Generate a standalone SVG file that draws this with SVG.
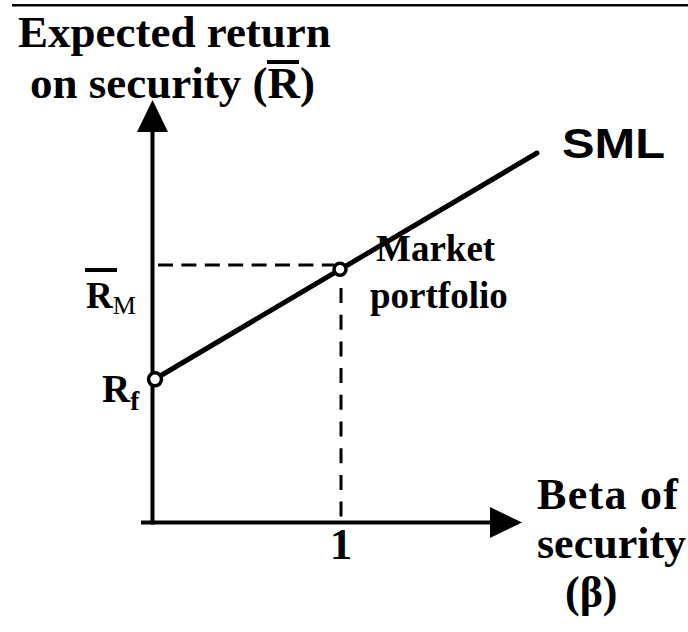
<svg xmlns="http://www.w3.org/2000/svg" width="688" height="632" viewBox="0 0 688 632">
  <style>
    .serif { font-family: "Liberation Serif", "Times New Roman", serif; font-weight: bold; fill: #000; }
    .sans { font-family: "Liberation Sans", Arial, sans-serif; font-weight: bold; fill: #000; }
    .axis { stroke: #000; stroke-width: 4; fill: none; }
    .guide { stroke: #000; stroke-width: 3; fill: none; }
    .sml { stroke: #000; stroke-width: 5; fill: none; stroke-linecap: round; }
    .point { fill: #fff; stroke: #000; stroke-width: 3.5; }
  </style>
  <defs>
    <marker id="arrow" markerUnits="userSpaceOnUse" markerWidth="34" markerHeight="32" refX="2" refY="15.5" orient="auto">
      <path d="M0,0 L32,15.5 L0,31 Z" fill="#000"/>
    </marker>
  </defs>

  <rect width="688" height="632" fill="#fff"/>
  <line x1="12" y1="5.3" x2="688" y2="5.3" stroke="#000" stroke-width="2.5"/>

  <!-- vertical axis title -->
  <g id="y-title">
    <text class="serif" x="18" y="47" font-size="45">Expected return</text>
    <text class="serif" x="30" y="98" font-size="45">on security (R)</text>
    <rect x="267" y="60" width="32" height="4" fill="#000"/>
  </g>

  <!-- axes, guides and the security market line -->
  <g id="connectors">
    <line class="axis" x1="152.5" y1="524.5" x2="152.5" y2="130" marker-end="url(#arrow)"/>
    <line class="axis" x1="141" y1="522.5" x2="492" y2="522.5" marker-end="url(#arrow)"/>
    <line class="guide" x1="158" y1="265" x2="334" y2="265" stroke-dasharray="15 8.4"/>
    <line class="guide" x1="341" y1="288" x2="341" y2="520" stroke-dasharray="15 11.7"/>
    <line class="sml" x1="155" y1="379" x2="537" y2="153"/>
  </g>

  <!-- risk-free rate on the return axis -->
  <g id="rf">
    <circle class="point" cx="155" cy="379.3" r="6.5"/>
    <text class="serif" x="102" y="402" font-size="39">R<tspan font-size="27" dy="8">f</tspan></text>
  </g>

  <!-- expected market return -->
  <g id="rm">
    <rect x="85" y="268" width="32" height="4" fill="#000"/>
    <text class="serif" x="86" y="308" font-size="37">R<tspan font-size="26" font-weight="normal" dy="6">M</tspan></text>
  </g>

  <!-- market portfolio at beta = 1 -->
  <g id="market">
    <circle class="point" cx="340" cy="269.3" r="6"/>
    <text class="serif" x="376" y="261" font-size="37">Market</text>
    <text class="serif" x="370" y="308" font-size="37">portfolio</text>
  </g>

  <g id="sml-label">
    <text class="sans" x="562" y="158" font-size="42" textLength="103" lengthAdjust="spacingAndGlyphs">SML</text>
  </g>

  <g id="beta-one">
    <text class="serif" x="341" y="559" font-size="45" text-anchor="middle">1</text>
  </g>

  <!-- horizontal axis title -->
  <g id="x-title">
    <text class="serif" x="537" y="509" font-size="44" textLength="141" lengthAdjust="spacing">Beta of</text>
    <text class="serif" x="537" y="558" font-size="44">security</text>
    <text class="serif" x="565" y="607" font-size="44">(β)</text>
  </g>
</svg>
